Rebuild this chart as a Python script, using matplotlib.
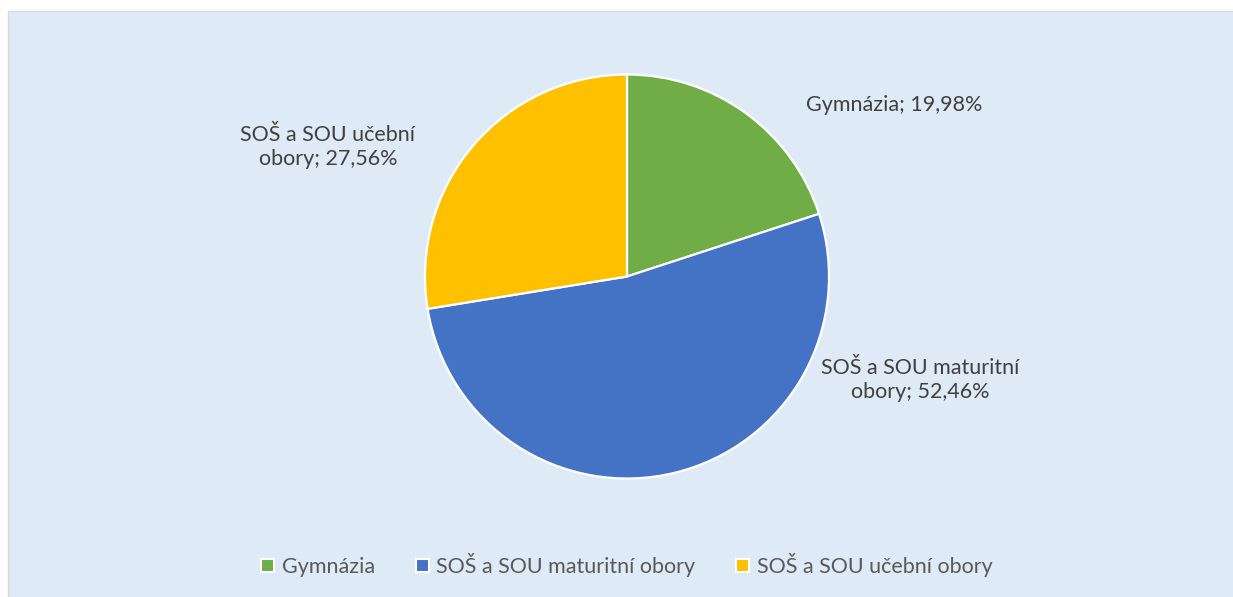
import matplotlib
matplotlib.use("Agg")
import matplotlib.pyplot as plt
from matplotlib.patches import Rectangle, Patch

categories = ["Gymnázia", "SOŠ a SOU maturitní obory", "SOŠ a SOU učební obory"]
values = [19.98, 52.46, 27.56]
colors = ["#70AD47", "#4472C4", "#FFC000"]
label_texts = ["Gymnázia; 19,98%", "SOŠ a SOU maturitní\nobory; 52,46%", "SOŠ a SOU učební\nobory; 27,56%"]

W, H = 1233, 597
plt.rcParams['font.family'] = ['Lato', 'DejaVu Sans']

fig = plt.figure(figsize=(W / 100, H / 100), dpi=100)
fig.patch.set_facecolor("white")
bg = Rectangle((8 / W, -0.01), 1.02 - 8 / W, (H - 11) / H + 0.01, transform=fig.transFigure,
               facecolor="#DEEBF7", edgecolor="#D9D9D9", linewidth=1.0, zorder=-10)
fig.add_artist(bg)

ax = fig.add_axes([0, 0, 1, 1], zorder=1)
ax.patch.set_alpha(0)

cx, cy, r = 627, H - 276.5, 202
ax.pie(values, colors=colors, startangle=90, counterclock=False, center=(cx, cy), radius=r,
       wedgeprops=dict(edgecolor="white", linewidth=1.6), frame=True)
ax.set_xlim(0, W)
ax.set_ylim(0, H)
ax.set_aspect("equal")
ax.axis("off")

label_pos = [(894, H - 105), (920, H - 380), (328, H - 147)]
for txt, (x, y) in zip(label_texts, label_pos):
    ax.text(x, y, txt, ha="center", va="center", fontsize=15.5, color="#404040",
            linespacing=1.3)

handles = [Patch(facecolor=c, edgecolor="white", linewidth=1.5) for c in colors]
leg = fig.legend(handles, categories, loc="center", bbox_to_anchor=(627 / W, 1 - 565 / H),
                 ncol=3, frameon=False, fontsize=15.5, handlelength=0.6, handleheight=0.6,
                 handletextpad=0.35, columnspacing=1.9, labelcolor="#595959")

fig.savefig("out.png", dpi=100, facecolor="white")
